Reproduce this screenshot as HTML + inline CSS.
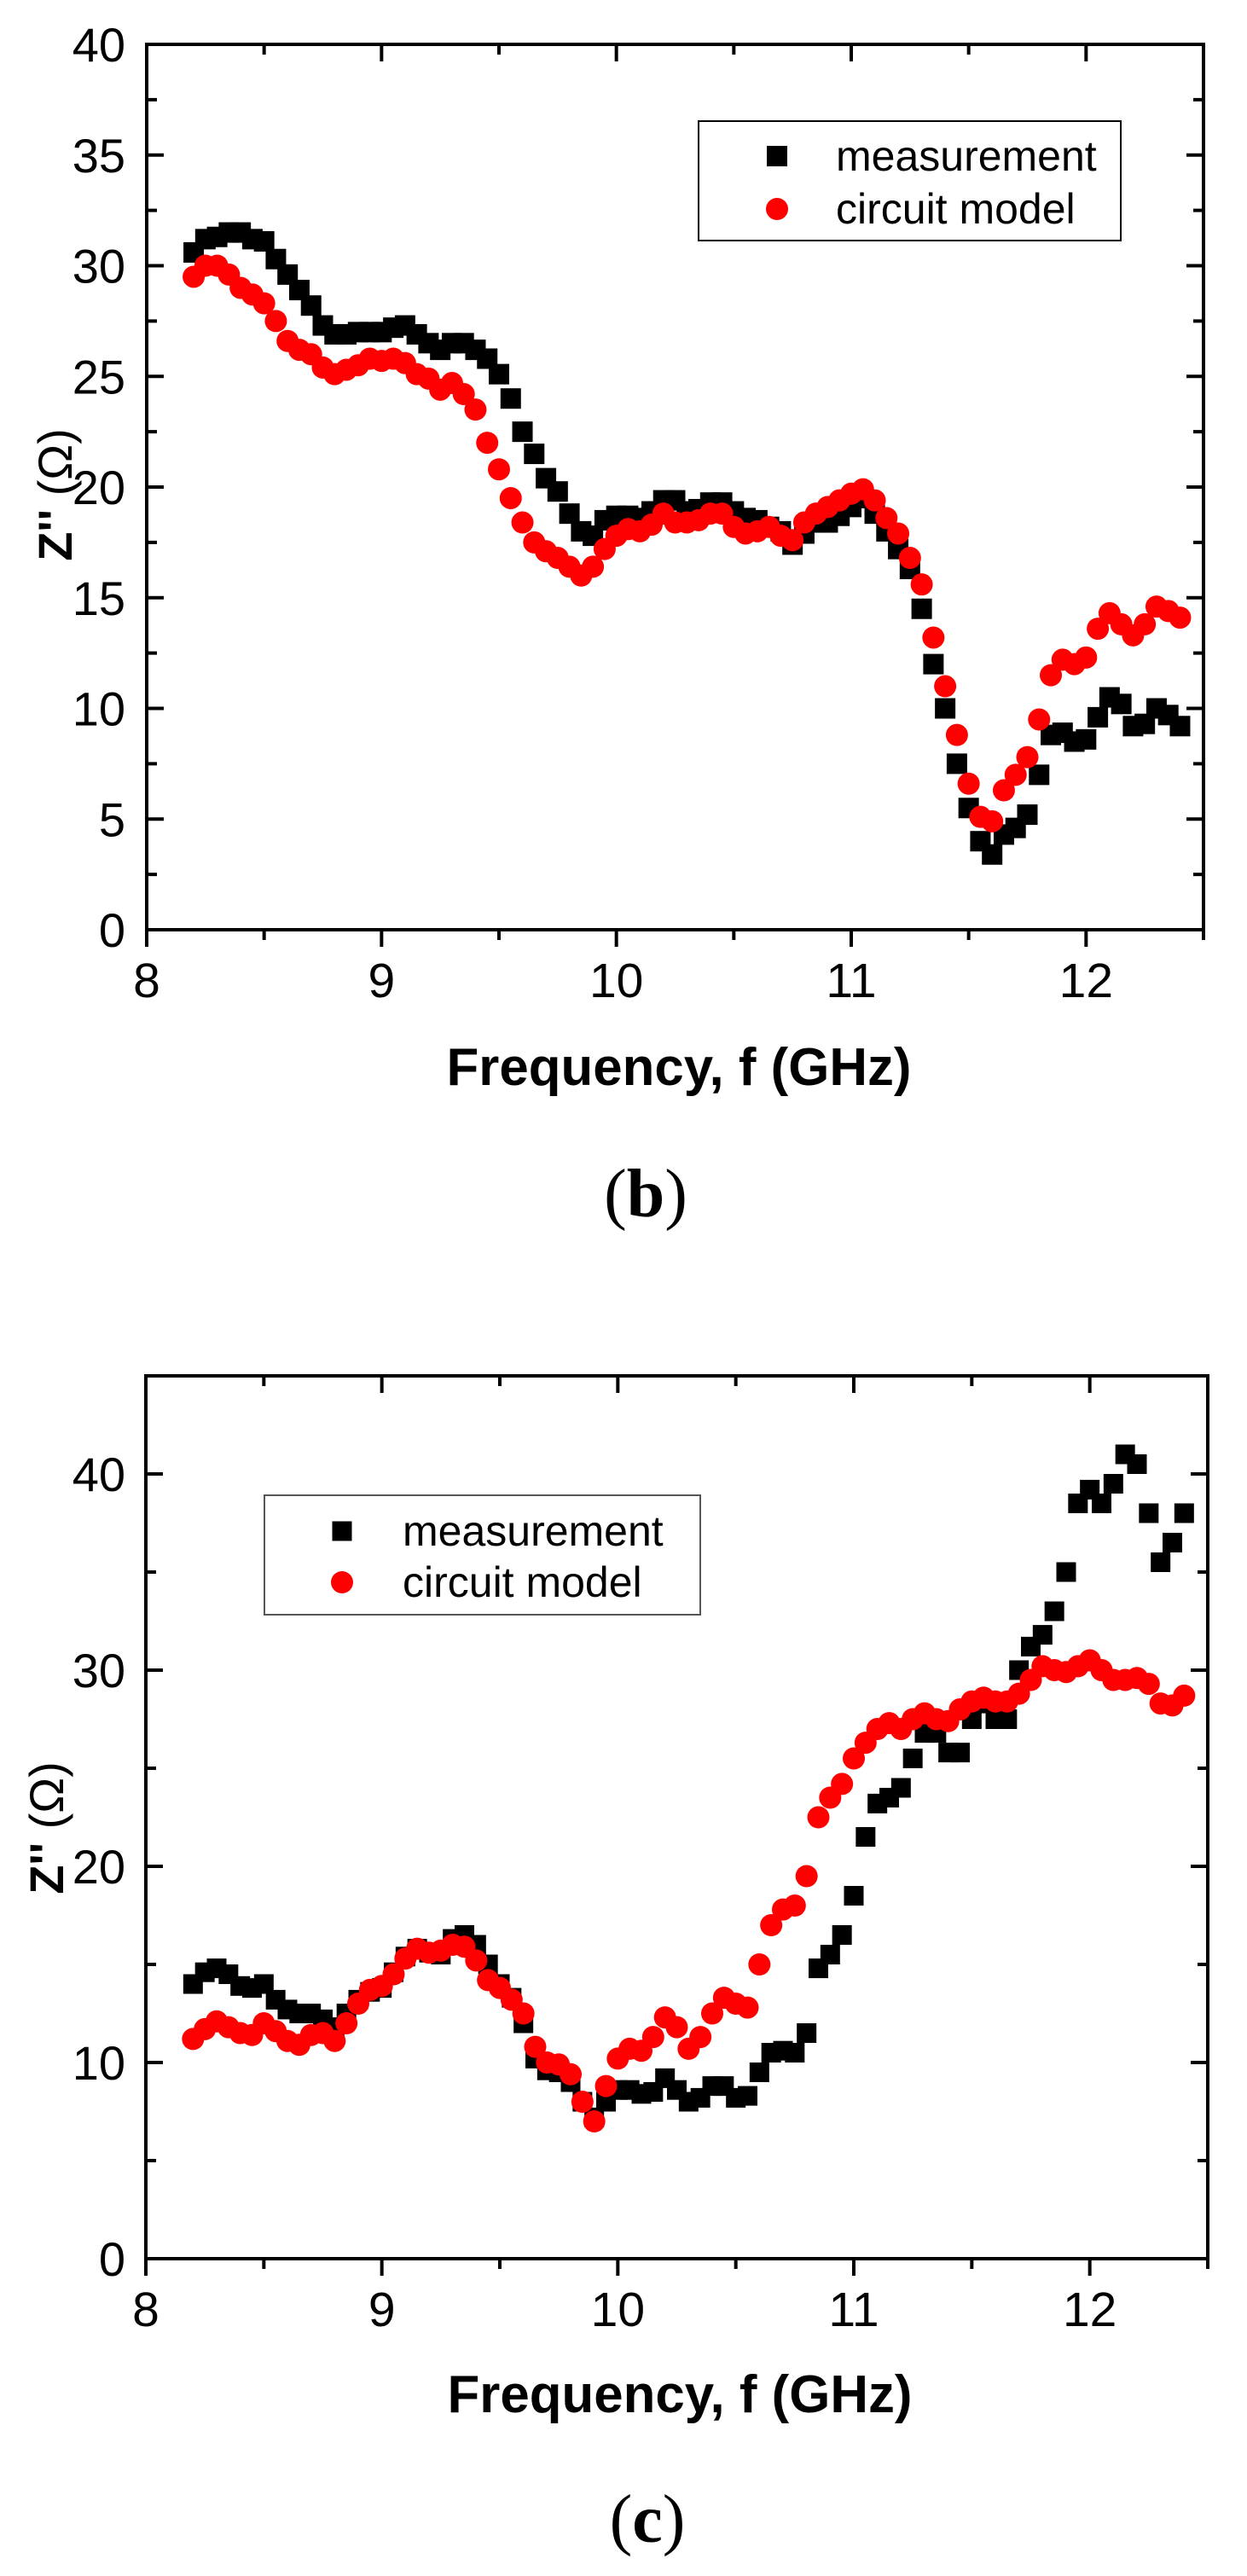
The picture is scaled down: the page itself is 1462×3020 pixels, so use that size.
<!DOCTYPE html>
<html><head><meta charset="utf-8">
<style>
html,body{margin:0;padding:0;background:#fff;}
svg{display:block;}
text{font-family:"Liberation Sans",Arial,sans-serif;}
</style></head>
<body>
<svg id="fig" width="1462" height="3020" viewBox="0 0 1462 3020" xmlns="http://www.w3.org/2000/svg">
<rect x="0" y="0" width="1462" height="3020" fill="#ffffff"/>
<g id="chartB"></g>
<g id="chartC"></g>
<text x="757" y="1426" text-anchor="middle" font-size="80" style="font-family:'Liberation Serif',serif">(<tspan font-weight="bold">b</tspan>)</text>
<text x="759" y="2980" text-anchor="middle" font-size="80" style="font-family:'Liberation Serif',serif">(<tspan font-weight="bold">c</tspan>)</text>
</svg>
<script>
const freq = [];
for (let i = 0; i <= 84; i++) freq.push(+(8.2 + i * 0.05).toFixed(2));
const xTicks = [8, 9, 10, 11, 12];
const xTickLabels = ["8", "9", "10", "11", "12"];
const bYTicks = [0, 5, 10, 15, 20, 25, 30, 35, 40];
const bYTickLabels = ["0", "5", "10", "15", "20", "25", "30", "35", "40"];
const cYTicks = [0, 10, 20, 30, 40];
const cYTickLabels = ["0", "10", "20", "30", "40"];
const legendLabels = ["measurement", "circuit model"];

const measB = [30.6,31.2,31.3,31.5,31.5,31.2,31.1,30.3,29.6,28.9,
28.2,27.3,26.9,26.9,27.0,27.0,27.0,27.2,27.3,26.9,
26.5,26.2,26.5,26.5,26.2,25.8,25.1,24.0,22.5,21.5,
20.4,19.8,18.8,18.0,17.8,18.5,18.7,18.7,18.6,18.9,
19.4,19.4,18.9,19.0,19.3,19.3,18.9,18.6,18.5,18.2,
18.0,17.4,17.9,18.4,18.4,18.7,19.1,19.5,18.8,18.0,
17.2,16.3,14.5,12.0,10.0,7.5,5.5,4.0,3.4,4.3,
4.6,5.2,7.0,8.8,8.9,8.5,8.6,9.6,10.5,10.2,
9.2,9.3,10.0,9.7,9.2];
const modelB = [29.5,30.0,30.0,29.6,29.0,28.7,28.3,27.5,26.6,26.2,
26.0,25.4,25.1,25.3,25.5,25.8,25.7,25.8,25.6,25.1,
24.9,24.4,24.7,24.2,23.5,22.0,20.8,19.5,18.4,17.5,
17.1,16.8,16.4,16.0,16.4,17.2,17.8,18.1,18.0,18.3,
18.8,18.4,18.4,18.5,18.8,18.8,18.2,17.9,18.0,18.2,
17.8,17.6,18.4,18.8,19.1,19.4,19.7,19.9,19.4,18.6,
17.9,16.8,15.6,13.2,11.0,8.8,6.6,5.1,4.9,6.3,
7.0,7.8,9.5,11.5,12.2,12.0,12.3,13.6,14.3,13.8,
13.3,13.8,14.6,14.4,14.1];
const measC = [14.0,14.6,14.8,14.5,13.9,13.8,14.0,13.2,12.7,12.5,
12.5,12.2,11.8,12.5,13.2,13.6,13.8,14.6,15.4,15.8,
15.6,15.5,16.3,16.5,16.0,15.0,14.0,13.3,12.0,10.2,
9.6,9.5,9.0,8.0,7.2,8.0,8.6,8.6,8.4,8.5,
9.2,8.6,8.0,8.2,8.8,8.8,8.2,8.3,9.5,10.5,
10.6,10.5,11.5,14.8,15.5,16.5,18.5,21.5,23.2,23.5,
24.0,25.5,26.8,26.8,25.8,25.8,27.5,28.3,27.5,27.5,
30.0,31.2,31.8,33.0,35.0,38.5,39.2,38.5,39.5,41.0,
40.5,38.0,35.5,36.5,38.0];
const modelC = [11.2,11.7,12.1,11.8,11.5,11.4,12.0,11.6,11.1,10.9,
11.4,11.5,11.1,12.0,13.0,13.7,13.9,14.5,15.3,15.8,
15.6,15.7,16.0,15.9,15.2,14.2,13.8,13.2,12.5,10.8,
10.0,9.9,9.4,8.0,7.0,8.8,10.2,10.7,10.6,11.3,
12.3,11.8,10.7,11.3,12.5,13.3,13.0,12.8,15.0,17.0,
17.8,18.0,19.5,22.5,23.5,24.2,25.5,26.3,27.0,27.3,
27.0,27.5,27.8,27.5,27.4,28.0,28.4,28.6,28.4,28.4,
28.8,29.5,30.2,30.0,29.9,30.2,30.5,30.0,29.5,29.5,
29.6,29.3,28.3,28.2,28.7];

const NS = "http://www.w3.org/2000/svg";
function mk(parent, tag, attrs) {
  const el = document.createElementNS(NS, tag);
  for (const k in attrs) el.setAttribute(k, attrs[k]);
  parent.appendChild(el);
  return el;
}

function drawChart(g, cfg) {
  const X = v => cfg.left + (v - 8) / 4.5 * (cfg.right - cfg.left);
  const Y = v => cfg.bottom - v / cfg.ymax * (cfg.bottom - cfg.top);
  const sq = cfg.sq, r = cfg.r;
  freq.forEach((f, i) => {
    const s = mk(g, "rect", {x: X(f) - sq / 2, y: Y(cfg.meas[i]) - sq / 2, width: sq, height: sq, fill: "#000"});
    
    
  });
  freq.forEach((f, i) => {
    const c = mk(g, "circle", {cx: X(f), cy: Y(cfg.model[i]), r: r, fill: "#ff0000"});
    
    
  });
  const fr = mk(g, "rect", {x: cfg.left, y: cfg.top, width: cfg.right - cfg.left, height: cfg.bottom - cfg.top, fill: "none", stroke: "#000", "stroke-width": 4});
  
  
  for (let v = 8; v <= 12.5001; v += 0.5) {
    const major = Math.abs(v - Math.round(v)) < 1e-6;
    const L = major ? 20 : 12;
    const t1 = mk(g, "line", {x1: X(v), x2: X(v), y1: cfg.bottom, y2: cfg.bottom + L, stroke: "#000", "stroke-width": 4});
    
    
    const t2 = mk(g, "line", {x1: X(v), x2: X(v), y1: cfg.top, y2: cfg.top + L, stroke: "#000", "stroke-width": 4});
    
    
  }
  xTicks.forEach((v, i) => {
    const t = mk(g, "text", {x: X(v), y: cfg.xLabelY, "text-anchor": "middle", "font-size": 57});
    t.textContent = xTickLabels[i];
    
    
  });
  for (let v = 0; v <= cfg.ymax + 1e-6; v += cfg.minor) {
    const major = Math.abs(v / cfg.major - Math.round(v / cfg.major)) < 1e-6;
    const L = major ? 20 : 12;
    const t1 = mk(g, "line", {x1: cfg.left, x2: cfg.left + L, y1: Y(v), y2: Y(v), stroke: "#000", "stroke-width": 4});
    
    
    const t2 = mk(g, "line", {x1: cfg.right, x2: cfg.right - L, y1: Y(v), y2: Y(v), stroke: "#000", "stroke-width": 4});
    
    
  }
  cfg.yTicks.forEach((v, i) => {
    const t = mk(g, "text", {x: 147, y: Y(v) + 20, "text-anchor": "end", "font-size": 56});
    t.textContent = cfg.yLabels[i];
    
    
  });
  const xt = mk(g, "text", {x: cfg.xTitleX, y: cfg.xTitleY, "text-anchor": "middle", "font-size": 62, "font-weight": "bold", textLength: 545, lengthAdjust: "spacingAndGlyphs"});
  xt.textContent = "Frequency, f (GHz)";
  
  
  const yt = mk(g, "text", {x: 0, y: 0, "text-anchor": "middle", "font-size": 56, transform: "translate(" + cfg.yTitleX + "," + cfg.yTitleY + ") rotate(-90)"});
  yt.innerHTML = '<tspan font-weight="bold">Z\'\'</tspan> (Ω)';
  
  
  const lg = mk(g, "g", {});
  
  
  const L = cfg.legend;
  mk(lg, "rect", {x: L.x, y: L.y, width: L.w, height: L.h, fill: "#fff", stroke: L.stroke, "stroke-width": 2});
  const e1 = mk(lg, "rect", {x: L.mx - sq / 2, y: L.r1 - sq / 2, width: sq, height: sq, fill: "#000"});
  
  
  const e2 = mk(lg, "circle", {cx: L.mx, cy: L.r2, r: r, fill: "#ff0000"});
  
  
  [L.r1, L.r2].forEach((yy, i) => {
    const t = mk(lg, "text", {x: L.tx, y: yy + 17, "font-size": 50});
    t.textContent = legendLabels[i];
    
    
  });
}

drawChart(document.getElementById("chartB"), {
  left: 172, right: 1411, top: 52, bottom: 1090, ymax: 40, major: 5, minor: 2.5,
  yTicks: bYTicks, yLabels: bYTickLabels, meas: measB, model: modelB,
  sq: 24, r: 13, xLabelY: 1169, xTitleX: 796, xTitleY: 1272, yTitleX: 84, yTitleY: 580,
  legend: {x: 819, y: 142, w: 495, h: 140, mx: 911, tx: 980, r1: 183, r2: 245, stroke: "#000"}
});
drawChart(document.getElementById("chartC"), {
  left: 171, right: 1416, top: 1613, bottom: 2648, ymax: 45, major: 10, minor: 5,
  yTicks: cYTicks, yLabels: cYTickLabels, meas: measC, model: modelC,
  sq: 23, r: 13, xLabelY: 2727, xTitleX: 797, xTitleY: 2828, yTitleX: 74, yTitleY: 2143,
  legend: {x: 310, y: 1753, w: 511, h: 140, mx: 401, tx: 472, r1: 1795, r2: 1855, stroke: "#555"}
});
</script>
</body></html>
